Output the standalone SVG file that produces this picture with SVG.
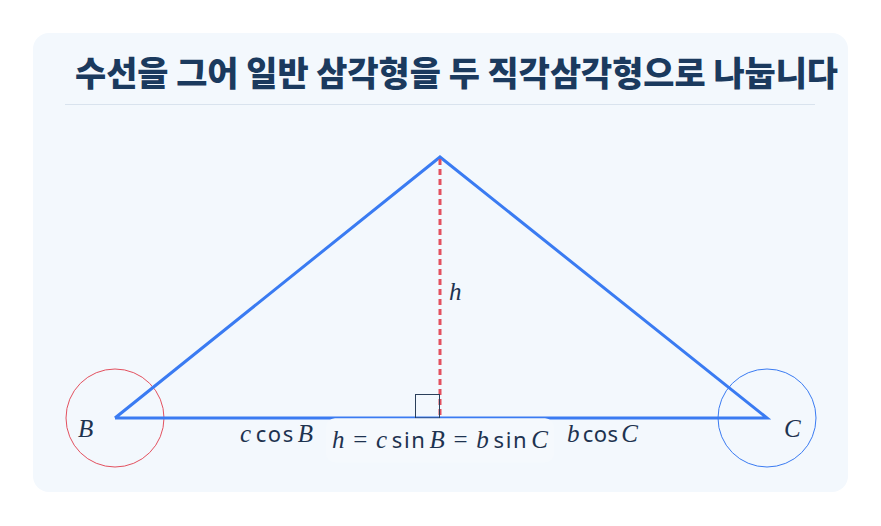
<svg xmlns="http://www.w3.org/2000/svg" width="881" height="526" viewBox="0 0 881 526">
<style>
.title{font-family:"Noto Sans CJK KR","Noto Sans",sans-serif;font-weight:900;font-size:34px;fill:#1b3a5e}
.m{font-family:"Liberation Serif","DejaVu Serif",serif;font-style:italic;font-size:25px;fill:#1e3350}
.f{font-family:"Noto Sans","DejaVu Sans",sans-serif;font-style:normal;font-size:22px;fill:#1e3350}
.r{font-family:"Liberation Serif","DejaVu Serif",serif;font-style:normal;font-size:25px;fill:#1e3350}
.side{fill:none;stroke:#3a7bf2;stroke-width:3;stroke-linejoin:miter}
</style>
<rect x="0" y="0" width="881" height="526" fill="#ffffff"/>
<rect x="33" y="33" width="815" height="459" rx="16" fill="#f3f8fd"/>
<text class="title" x="75" y="86" textLength="763" lengthAdjust="spacingAndGlyphs">수선을 그어 일반 삼각형을 두 직각삼각형으로 나눕니다</text>
<line x1="65" y1="104.5" x2="815" y2="104.5" stroke="#d9e3ee" stroke-width="1"/>
<g id="angle-B"><circle cx="115" cy="418" r="49" fill="none" stroke="#e3515f" stroke-width="1"/></g>
<g id="angle-C"><circle cx="767" cy="418" r="49" fill="none" stroke="#3a7bf2" stroke-width="1"/></g>
<g id="triangle"><polyline class="side" points="115,418 440,157 767,418 115,418"/></g>
<g id="connectors">
<line x1="440" y1="159" x2="440" y2="418" stroke="#e3515f" stroke-width="3" stroke-dasharray="6 4"/>
<rect x="415.5" y="394.5" width="24" height="23.5" fill="none" stroke="#2a3f5a" stroke-width="1"/>
</g>
<g id="label-middle">
<rect x="326" y="418.3" width="228" height="44" rx="9" fill="#f5f9fd"/>
<text x="332" y="448" textLength="216" lengthAdjust="spacing"><tspan class="m">h</tspan><tspan class="r" dx="7">=</tspan><tspan class="m" dx="7">c</tspan><tspan class="f" dx="3">sin</tspan><tspan class="m" dx="3">B</tspan><tspan class="r" dx="7">=</tspan><tspan class="m" dx="7">b</tspan><tspan class="f" dx="3">sin</tspan><tspan class="m" dx="3">C</tspan></text>
</g>
<g id="label-ccosB"><text x="240" y="442" textLength="73" lengthAdjust="spacing"><tspan class="m">c</tspan><tspan class="f" dx="3">cos</tspan><tspan class="m" dx="3">B</tspan></text></g>
<g id="label-bcosC"><text x="567" y="442" textLength="71" lengthAdjust="spacing"><tspan class="m">b</tspan><tspan class="f" dx="3">cos</tspan><tspan class="m" dx="3">C</tspan></text></g>
<g id="label-B"><text class="m" x="78" y="437">B</text></g>
<g id="label-C"><text class="m" x="784" y="437">C</text></g>
<g id="label-h"><text class="m" x="449" y="300">h</text></g>
</svg>
